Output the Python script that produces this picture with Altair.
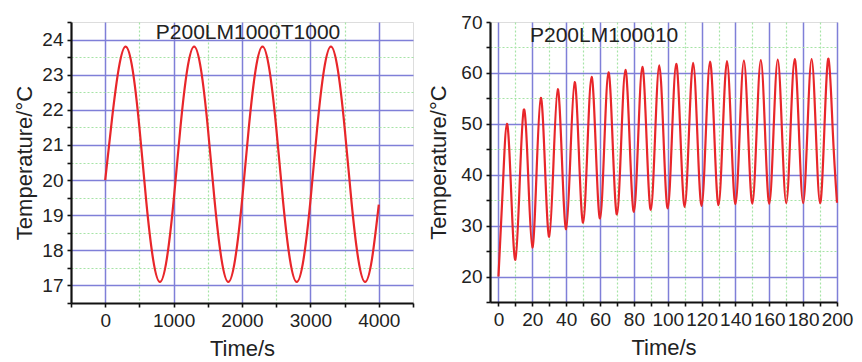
import altair as alt
import pandas as pd

# Left panel: P200LM1000T1000
left_time = [0, 100, 200, 300, 400, 500, 600, 700, 800, 900,
             1000, 1100, 1200, 1300, 1400, 1500, 1600, 1700, 1800, 1900,
             2000, 2100, 2200, 2300, 2400, 2500, 2600, 2700, 2800, 2900,
             3000, 3100, 3200, 3300, 3400, 3500, 3600, 3700, 3800, 3900, 4000]
left_temp = [20.0, 21.75, 23.2, 23.8, 23.15, 21.5, 19.4, 17.75, 17.1, 17.75,
             19.4, 21.5, 23.15, 23.8, 23.15, 21.5, 19.4, 17.75, 17.1, 17.75,
             19.4, 21.5, 23.15, 23.8, 23.15, 21.5, 19.4, 17.75, 17.1, 17.75,
             19.4, 21.5, 23.15, 23.8, 23.15, 21.5, 19.4, 17.75, 17.1, 17.75, 19.3]

# Right panel: P200LM100010
right_time = [0, 2.5, 5, 7.5, 10, 12.5, 15, 17.5, 20, 22.5, 25, 27.5, 30, 32.5, 35, 37.5,
              40, 42.5, 45, 47.5, 50, 52.5, 55, 57.5, 60, 62.5, 65, 67.5, 70, 72.5, 75, 77.5,
              80, 82.5, 85, 87.5, 90, 92.5, 95, 97.5, 100, 102.5, 105, 107.5, 110, 112.5, 115, 117.5,
              120, 122.5, 125, 127.5, 130, 132.5, 135, 137.5, 140, 142.5, 145, 147.5, 150, 152.5, 155, 157.5,
              160, 162.5, 165, 167.5, 170, 172.5, 175, 177.5, 180, 182.5, 185, 187.5, 190, 192.5, 195, 197.5, 200]
right_temp = [20.0, 37.0, 50.0, 36.6, 23.3, 38.0, 52.8, 40.3, 25.7, 40.4, 55.1, 41.5, 27.8, 42.3, 56.8, 43.0,
              29.3, 43.7, 58.2, 44.4, 30.6, 44.9, 59.2, 45.3, 31.4, 45.7, 60.1, 46.1, 32.2, 46.4, 60.6, 46.6,
              32.7, 46.9, 61.2, 47.1, 33.1, 47.3, 61.5, 47.4, 33.4, 47.6, 61.8, 47.8, 33.7, 47.9, 62.0, 47.9,
              33.9, 48.0, 62.2, 48.1, 34.0, 48.2, 62.3, 48.2, 34.2, 48.3, 62.4, 48.3, 34.3, 48.4, 62.5, 48.4,
              34.3, 48.5, 62.6, 48.5, 34.4, 48.5, 62.7, 48.6, 34.4, 48.6, 62.7, 48.6, 34.4, 48.6, 62.8, 48.6, 34.5]

left_title = ["P200LM1000T1000"]
right_title = ["P200LM100010"]
x_title = "Time/s"
y_title = "Temperature/°C"

left_xticks = list(range(-500, 4501, 500))
left_yticks = [16.5, 17, 17.5, 18, 18.5, 19, 19.5, 20, 20.5, 21, 21.5, 22, 22.5, 23, 23.5, 24, 24.5]
right_xticks = list(range(0, 201, 10))
right_yticks = list(range(15, 71, 5))

FONT = "Liberation Sans"
BLUE = "#7f7fd8"
GREEN = "#a6e4a6"
RED = "#e8262a"


def make_axis(values, major_test, hide_test, title, title_pad):
    return alt.Axis(
        values=values,
        title=title,
        titleFont=FONT, titleFontSize=22, titleFontWeight="normal", titleColor="#222",
        titlePadding=title_pad,
        labelFont=FONT, labelFontSize=19, labelColor="#222",
        labelExpr=f"({major_test}) ? format(datum.value, 'd') : ''",
        labelPadding=4,
        labelFlush=False,
        labelOverlap=False,
        domainColor="#111", domainWidth=2.2,
        tickColor="#111", tickSize=4, tickWidth=1.6,
        grid=True,
        gridColor={"condition": {"test": major_test, "value": BLUE}, "value": GREEN},
        gridDash={"condition": {"test": major_test, "value": []}, "value": [2, 2]},
        gridWidth={"condition": {"test": major_test, "value": 1.5}, "value": 1.2},
        gridOpacity={"condition": {"test": hide_test, "value": 0}, "value": 1},
    )


def text_layer(label, x, y, align):
    return alt.Chart(pd.DataFrame({"label": label})).mark_text(
        font=FONT, fontSize=21, color="#222", align=align, baseline="alphabetic"
    ).encode(text="label:N", x=alt.value(x), y=alt.value(y))


left_df = pd.DataFrame({"t": left_time, "T": left_temp})
right_df = pd.DataFrame({"t": right_time, "T": right_temp})

left_line = alt.Chart(left_df).mark_line(color=RED, strokeWidth=2.2, interpolate="natural").encode(
    x=alt.X("t:Q", scale=alt.Scale(domain=[-500, 4500], nice=False, zero=False),
            axis=make_axis(left_xticks, "round(datum.value / 1000) * 1000 === datum.value",
                           "datum.value < -100 || datum.value > 4100", x_title, 8)),
    y=alt.Y("T:Q", scale=alt.Scale(domain=[16.5, 24.5], nice=False, zero=False),
            axis=make_axis(left_yticks, "round(datum.value) === datum.value",
                           "datum.value < 16.8 || datum.value > 24.2", y_title, 5)),
)
left = alt.layer(left_line, text_layer(left_title, 177, 17, "center")).properties(width=342, height=281)

right_line = alt.Chart(right_df).mark_line(color=RED, strokeWidth=2.2, interpolate="natural").encode(
    x=alt.X("t:Q", scale=alt.Scale(domain=[-5, 200], nice=False, zero=False),
            axis=make_axis(right_xticks, "round(datum.value / 20) * 20 === datum.value",
                           "datum.value < -1 || datum.value > 201", x_title, 8)),
    y=alt.Y("T:Q", scale=alt.Scale(domain=[15, 70], nice=False, zero=False),
            axis=make_axis(right_yticks, "round(datum.value / 10) * 10 === datum.value",
                           "datum.value < 16 || datum.value > 68", y_title, 10)),
)
right = alt.layer(right_line, text_layer(right_title, 40, 20, "left")).properties(width=347, height=280)

chart = alt.hconcat(left, right, spacing=12).configure_view(stroke=None).properties(
    padding={"left": 13, "top": 12, "right": 5, "bottom": 0}
).configure(background="white")

chart.save("out.html", embed_options={"renderer": "svg", "actions": False})
